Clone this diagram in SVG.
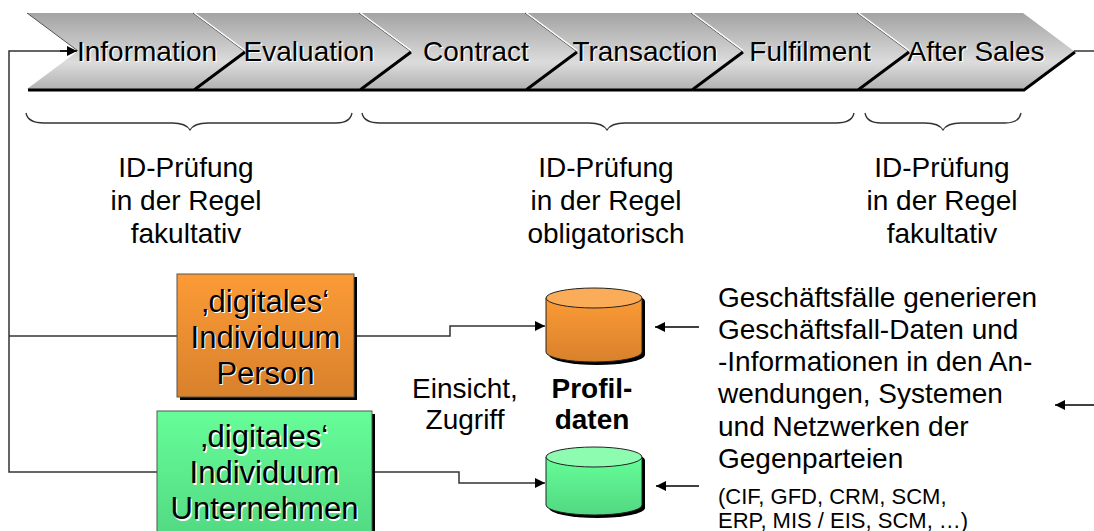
<svg xmlns="http://www.w3.org/2000/svg" width="1094" height="531" viewBox="0 0 1094 531">
<defs>
<linearGradient id="gChev" x1="0" y1="0" x2="0" y2="1">
<stop offset="0" stop-color="#a3a3a3"/><stop offset="0.65" stop-color="#dcdcdc"/><stop offset="1" stop-color="#b2b2b2"/>
</linearGradient>
<linearGradient id="gOr" x1="0" y1="0" x2="0" y2="1">
<stop offset="0" stop-color="#fc9b36"/><stop offset="1" stop-color="#d8812c"/>
</linearGradient>
<linearGradient id="gGr" x1="0" y1="0" x2="0" y2="1">
<stop offset="0" stop-color="#66fd98"/><stop offset="1" stop-color="#52d882"/>
</linearGradient>
<marker id="ah2" viewBox="0 0 10 10" refX="10" refY="5" markerWidth="10" markerHeight="10" markerUnits="userSpaceOnUse" orient="auto">
<path d="M0,0 L10,5 L0,10 z" fill="#000"/>
</marker>
</defs>
<style>
text{font-family:"Liberation Sans",Arial,sans-serif;fill:#000}
.chev{fill:url(#gChev)}
.sh{fill:none;stroke:#000;stroke-width:3;stroke-linejoin:miter}
.hl{fill:none;stroke:#fff;stroke-width:1.5}
.dk{fill:none;stroke:#333;stroke-width:0.8}
.ct{font-size:28px;text-anchor:middle}
.ws{fill:#fff}
.id{font-size:28px;text-anchor:middle}
.bt{font-size:31px;text-anchor:middle}
.rt{font-size:28px}
.sm{font-size:22px}
.ln{fill:none;stroke:#333;stroke-width:1.5}
.br{fill:none;stroke:#333;stroke-width:1.3}
.ar{fill:none;stroke:#000;stroke-width:1.5}
</style>

<g id="chevrons">
<polygon class="chev" points="27,13 193,13 244,51 193,89 27,89 78,51"/>
<polygon class="chev" points="193,13 359,13 410,51 359,89 193,89 244,51"/>
<polygon class="chev" points="359,13 525,13 576,51 525,89 359,89 410,51"/>
<polygon class="chev" points="525,13 691,13 742,51 691,89 525,89 576,51"/>
<polygon class="chev" points="691,13 857,13 908,51 857,89 691,89 742,51"/>
<polygon class="chev" points="857,13 1023,13 1074,51 1023,89 857,89 908,51"/>
<polyline class="sh" points="245,52 194,90 28,90"/>
<polyline class="sh" points="411,52 360,90 195,90"/>
<polyline class="sh" points="577,52 526,90 361,90"/>
<polyline class="sh" points="743,52 692,90 527,90"/>
<polyline class="sh" points="909,52 858,90 693,90"/>
<polyline class="sh" points="1075,52 1024,90 859,90"/>
<line class="dk" x1="27" y1="13" x2="78" y2="51"/>
<line class="dk" x1="193" y1="13" x2="244" y2="51"/><line class="hl" x1="194.5" y1="13" x2="245" y2="50.5"/>
<line class="dk" x1="359" y1="13" x2="410" y2="51"/><line class="hl" x1="360.5" y1="13" x2="411" y2="50.5"/>
<line class="dk" x1="525" y1="13" x2="576" y2="51"/><line class="hl" x1="526.5" y1="13" x2="577" y2="50.5"/>
<line class="dk" x1="691" y1="13" x2="742" y2="51"/><line class="hl" x1="692.5" y1="13" x2="743" y2="50.5"/>
<line class="dk" x1="857" y1="13" x2="908" y2="51"/><line class="hl" x1="858.5" y1="13" x2="909" y2="50.5"/>
</g>
<g id="chevron-labels">
<text class="ct ws" x="148.2" y="62.2">Information</text><text class="ct" x="147" y="61">Information</text>
<text class="ct ws" x="310.2" y="62.2">Evaluation</text><text class="ct" x="309" y="61">Evaluation</text>
<text class="ct ws" x="477.2" y="62.2">Contract</text><text class="ct" x="476" y="61">Contract</text>
<text class="ct ws" x="646.2" y="62.2">Transaction</text><text class="ct" x="645" y="61">Transaction</text>
<text class="ct ws" x="811.2" y="62.2">Fulfilment</text><text class="ct" x="810" y="61">Fulfilment</text>
<text class="ct ws" x="977.2" y="62.2">After Sales</text><text class="ct" x="976" y="61">After Sales</text>
</g>

<g id="braces">
<path class="br" d="M26,113 Q28,123 44,123 L172,123 Q186,123 190,130 Q194,123 208,123 L336,123 Q350,123 352,113"/>
<path class="br" d="M362,113 Q364,123 380,123 L589,123 Q603,123 607,130 Q611,123 625,123 L836,123 Q852,123 854,113"/>
<path class="br" d="M865,113 Q867,123 881,123 L925,123 Q939,123 943,130 Q947,123 961,123 L1005,123 Q1019,123 1021,113"/>
</g>
<g id="id-texts">
<text class="id" x="186" y="177">ID-Prüfung</text>
<text class="id" x="186" y="210">in der Regel</text>
<text class="id" x="186" y="243">fakultativ</text>
<text class="id" x="606" y="177">ID-Prüfung</text>
<text class="id" x="606" y="210">in der Regel</text>
<text class="id" x="606" y="243">obligatorisch</text>
<text class="id" x="942" y="177">ID-Prüfung</text>
<text class="id" x="942" y="210">in der Regel</text>
<text class="id" x="942" y="243">fakultativ</text>
</g>

<g id="connectors">
<polyline class="ln" points="72,51 9,51 9,472 157,472"/>
<line class="ln" x1="9" y1="336" x2="177" y2="336"/>
<line x1="60" y1="51" x2="77" y2="51" stroke="#000" stroke-width="1.5" marker-end="url(#ah2)"/>
<polyline class="ln" points="354,336 450,336 450,326 545,326" marker-end="url(#ah2)"/>
<polyline class="ln" points="372,472 459,472 459,483 545,483" marker-end="url(#ah2)"/>
<line class="ar" x1="699" y1="327" x2="655" y2="327" marker-end="url(#ah2)"/>
<line class="ar" x1="699" y1="486" x2="656" y2="486" marker-end="url(#ah2)"/>
<line class="ar" x1="1094" y1="405" x2="1055" y2="405" marker-end="url(#ah2)"/>
<line class="ln" x1="1074" y1="51" x2="1094" y2="51"/>
</g>

<g id="node-person">
<rect x="180" y="277" width="177" height="123" fill="#000"/>
<rect x="177" y="274" width="177" height="123" fill="url(#gOr)" stroke="#555" stroke-width="1"/>
<text class="bt ws" x="266.7" y="312.7">‚digitales‘</text><text class="bt" x="265.5" y="311.5">‚digitales‘</text>
<text class="bt ws" x="266.7" y="348.7">Individuum</text><text class="bt" x="265.5" y="347.5">Individuum</text>
<text class="bt ws" x="266.7" y="385.2">Person</text><text class="bt" x="265.5" y="384">Person</text>
</g>

<g id="node-unternehmen">
<rect x="160" y="414" width="215" height="130" fill="#000"/>
<rect x="157" y="411" width="215" height="130" fill="url(#gGr)" stroke="#555" stroke-width="1"/>
<text class="bt ws" x="265.7" y="448.5">‚digitales‘</text><text class="bt" x="264.5" y="447.3">‚digitales‘</text>
<text class="bt ws" x="265.7" y="484.5">Individuum</text><text class="bt" x="264.5" y="483.3">Individuum</text>
<text class="bt ws" x="265.7" y="520.5">Unternehmen</text><text class="bt" x="264.5" y="519.3">Unternehmen</text>
</g>

<g id="db-person">
<path d="M549,301 L549,355 A48,10 0 0 0 645,355 L645,301 A48,10 0 0 0 549,301 z" fill="#000"/>
<path d="M546,298 L546,352 A48,10 0 0 0 642,352 L642,298 z" fill="url(#gOr)" stroke="#222" stroke-width="1"/>
<ellipse cx="594" cy="298" rx="48" ry="10" fill="#fbac58" stroke="#222" stroke-width="1"/>
</g>
<g id="db-unternehmen">
<path d="M549,460 L549,508 A48,10 0 0 0 645,508 L645,460 A48,10 0 0 0 549,460 z" fill="#000"/>
<path d="M546,457 L546,505 A48,10 0 0 0 642,505 L642,457 z" fill="url(#gGr)" stroke="#222" stroke-width="1"/>
<ellipse cx="594" cy="457" rx="48" ry="10" fill="#8dfcb0" stroke="#222" stroke-width="1"/>
</g>

<g id="labels">
<text class="id" x="465" y="398">Einsicht,</text>
<text class="id" x="465" y="429">Zugriff</text>
<text class="id" x="592" y="398" font-weight="bold">Profil-</text>
<text class="id" x="592" y="429" font-weight="bold">daten</text>
</g>

<g id="text-geschaeftsfaelle">
<text class="rt" x="718" y="306.5">Geschäftsfälle generieren</text>
<text class="rt" x="718" y="338.8">Geschäftsfall-Daten und</text>
<text class="rt" x="718" y="371.1">-Informationen in den An-</text>
<text class="rt" x="718" y="403.4">wendungen, Systemen</text>
<text class="rt" x="718" y="435.7">und Netzwerken der</text>
<text class="rt" x="718" y="468">Gegenparteien</text>
<text class="sm" x="718" y="504">(CIF, GFD, CRM, SCM,</text>
<text class="sm" x="718" y="528">ERP, MIS / EIS, SCM, …)</text>
</g>
</svg>
